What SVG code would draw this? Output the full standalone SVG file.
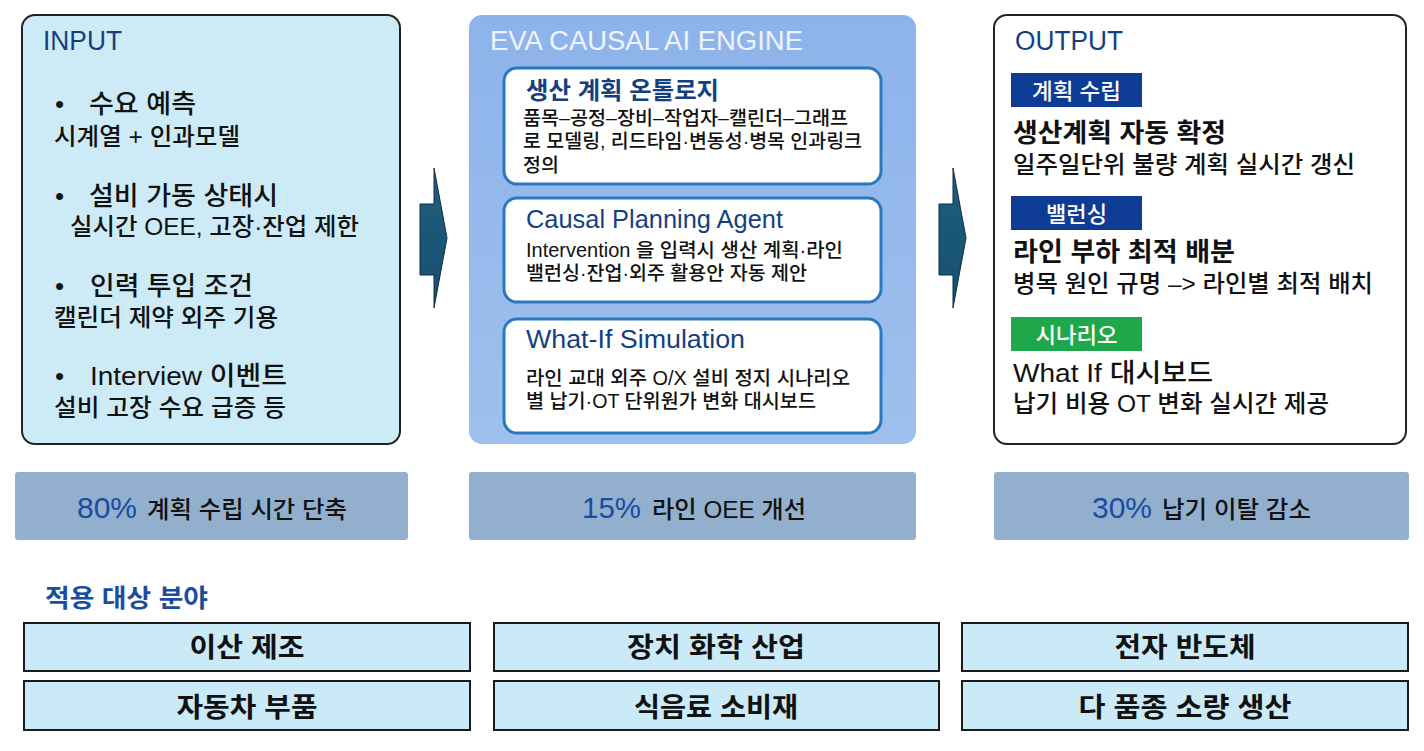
<svg xmlns="http://www.w3.org/2000/svg" width="1424" height="751" viewBox="0 0 1424 751">
<defs>
<linearGradient id="midg" x1="0" y1="0" x2="0" y2="1">
<stop offset="0" stop-color="#8db3ea"/>
<stop offset="1" stop-color="#9fc0ee"/>
</linearGradient>
<linearGradient id="arrg" x1="0" y1="0" x2="0" y2="1">
<stop offset="0" stop-color="#1d5f80"/>
<stop offset="1" stop-color="#174f6e"/>
</linearGradient>
</defs>
<style>
text{font-family:"Liberation Sans","Noto Sans CJK KR",sans-serif;}
.hdr{font-size:27px;fill:#163f80;}
.bul{font-size:26px;fill:#111;font-weight:500;}
.sub{font-size:24px;fill:#111;font-weight:500;}
.ititle{font-size:24px;fill:#163f80;font-weight:700;}
.ititle2{font-size:25px;fill:#163f80;}
.ibody{font-size:19.5px;fill:#111;font-weight:500;}
.badge{font-size:22px;fill:#fff;font-weight:500;text-anchor:middle;}
.obig{font-size:26px;fill:#111;font-weight:700;}
.osub{font-size:24px;fill:#111;font-weight:500;}
.stat{font-size:24px;fill:#111;font-weight:500;}
.pct{font-size:30px;fill:#1a4da0;}
.cell{fill:#c9eaf6;stroke:#1a1a1a;stroke-width:2;}
.ctext{font-size:27px;fill:#111;font-weight:700;text-anchor:middle;}
.inner{fill:#fff;stroke:#2a78bd;stroke-width:3;}
.arrow{fill:url(#arrg);stroke:#0f2e40;stroke-width:1;}
</style>
<rect width="1424" height="751" fill="#ffffff"/>

<g id="input">
<rect x="22" y="15" width="378" height="429" rx="13" fill="#cdebf7" stroke="#222" stroke-width="2"/>
<text x="43" y="50" class="hdr" textLength="79" lengthAdjust="spacingAndGlyphs">INPUT</text>
<text x="55" y="113" class="bul">•</text><text x="89" y="113" class="bul" textLength="107" lengthAdjust="spacingAndGlyphs">수요 예측</text>
<text x="54" y="145" class="sub" textLength="186" lengthAdjust="spacingAndGlyphs">시계열 + 인과모델</text>
<text x="55" y="205" class="bul">•</text><text x="89" y="205" class="bul" textLength="189" lengthAdjust="spacingAndGlyphs">설비 가동 상태시</text>
<text x="70" y="235" class="sub" textLength="289" lengthAdjust="spacingAndGlyphs">실시간 OEE, 고장·잔업 제한</text>
<text x="55" y="295" class="bul">•</text><text x="90" y="295" class="bul" textLength="163" lengthAdjust="spacingAndGlyphs">인력 투입 조건</text>
<text x="54" y="326" class="sub" textLength="224" lengthAdjust="spacingAndGlyphs">캘린더 제약 외주 기용</text>
<text x="55" y="385" class="bul">•</text><text x="90" y="385" class="bul" textLength="197" lengthAdjust="spacingAndGlyphs">Interview 이벤트</text>
<text x="54" y="416" class="sub" textLength="232" lengthAdjust="spacingAndGlyphs">설비 고장 수요 급증 등</text>
</g>

<g id="connectors">
<polygon class="arrow" points="420,204 434,204 434,168 447,238 434,308 434,275 420,275"/>
<polygon class="arrow" points="939,204 953,204 953,168 966,238 953,308 953,275 939,275"/>
</g>

<g id="engine">
<rect x="469" y="15" width="447" height="429" rx="13" fill="url(#midg)"/>
<text x="490" y="50" class="hdr" style="fill:#eef4ff" textLength="313" lengthAdjust="spacingAndGlyphs">EVA CAUSAL AI ENGINE</text>
</g>
<g id="ontology">
<rect x="504" y="68" width="377" height="116" rx="13" class="inner"/>
<text x="526" y="99" class="ititle" textLength="193" lengthAdjust="spacingAndGlyphs">생산 계획 온톨로지</text>
<text x="523" y="125" class="ibody" textLength="325" lengthAdjust="spacingAndGlyphs">품목–공정–장비–작업자–캘린더–그래프</text>
<text x="523" y="148" class="ibody" textLength="339" lengthAdjust="spacingAndGlyphs">로 모델링, 리드타임·변동성·병목 인과링크</text>
<text x="523" y="172" class="ibody">정의</text>
</g>
<g id="agent">
<rect x="504" y="198" width="377" height="104" rx="13" class="inner"/>
<text x="526" y="228" class="ititle2" textLength="257" lengthAdjust="spacingAndGlyphs">Causal Planning Agent</text>
<text x="526" y="257" class="ibody" textLength="317" lengthAdjust="spacingAndGlyphs">Intervention 을 입력시 생산 계획·라인</text>
<text x="526" y="280" class="ibody" textLength="281" lengthAdjust="spacingAndGlyphs">밸런싱·잔업·외주 활용안 자동 제안</text>
</g>
<g id="whatif">
<rect x="504" y="319" width="377" height="114" rx="13" class="inner"/>
<text x="526" y="348" class="ititle2" textLength="219" lengthAdjust="spacingAndGlyphs">What-If Simulation</text>
<text x="526" y="385" class="ibody" textLength="324" lengthAdjust="spacingAndGlyphs">라인 교대 외주 O/X 설비 정지 시나리오</text>
<text x="526" y="408" class="ibody" textLength="290" lengthAdjust="spacingAndGlyphs">별 납기·OT 단위원가 변화 대시보드</text>
</g>

<g id="output">
<rect x="994" y="15" width="412" height="429" rx="13" fill="#fff" stroke="#222" stroke-width="2"/>
<text x="1015" y="50" class="hdr" textLength="108" lengthAdjust="spacingAndGlyphs">OUTPUT</text>
<rect x="1011" y="73" width="131" height="34" fill="#0e3b94"/>
<text x="1076.5" y="99" class="badge" textLength="89" lengthAdjust="spacingAndGlyphs">계획 수립</text>
<text x="1013" y="142" class="obig" textLength="213" lengthAdjust="spacingAndGlyphs">생산계획 자동 확정</text>
<text x="1013" y="173" class="osub" textLength="342" lengthAdjust="spacingAndGlyphs">일주일단위 불량 계획 실시간 갱신</text>
<rect x="1011" y="196" width="131" height="34" fill="#0e3b94"/>
<text x="1076.5" y="222" class="badge" textLength="61" lengthAdjust="spacingAndGlyphs">밸런싱</text>
<text x="1013" y="261" class="obig" textLength="222" lengthAdjust="spacingAndGlyphs">라인 부하 최적 배분</text>
<text x="1013" y="292" class="osub" textLength="360" lengthAdjust="spacingAndGlyphs">병목 원인 규명 –&gt; 라인별 최적 배치</text>
<rect x="1011" y="317" width="131" height="34" fill="#1ea84b"/>
<text x="1076.5" y="343" class="badge" textLength="82" lengthAdjust="spacingAndGlyphs">시나리오</text>
<text x="1013" y="382" class="obig" style="font-weight:500" textLength="200" lengthAdjust="spacingAndGlyphs">What If 대시보드</text>
<text x="1013" y="412" class="osub" textLength="316" lengthAdjust="spacingAndGlyphs">납기 비용 OT 변화 실시간 제공</text>
</g>

<g id="stat1">
<rect x="15" y="472" width="393" height="68" rx="3" fill="#92afcd"/>
<text x="77" y="518" class="pct" textLength="60" lengthAdjust="spacingAndGlyphs">80%</text>
<text x="147" y="518" class="stat" textLength="200" lengthAdjust="spacingAndGlyphs">계획 수립 시간 단축</text>
</g>
<g id="stat2">
<rect x="469" y="472" width="447" height="68" rx="3" fill="#92afcd"/>
<text x="582" y="518" class="pct" textLength="59" lengthAdjust="spacingAndGlyphs">15%</text>
<text x="652" y="518" class="stat" textLength="154" lengthAdjust="spacingAndGlyphs">라인 OEE 개선</text>
</g>
<g id="stat3">
<rect x="994" y="472" width="415" height="68" rx="3" fill="#92afcd"/>
<text x="1092" y="518" class="pct" textLength="60" lengthAdjust="spacingAndGlyphs">30%</text>
<text x="1162" y="518" class="stat" textLength="149" lengthAdjust="spacingAndGlyphs">납기 이탈 감소</text>
</g>

<g id="fields-title">
<text x="45" y="607" style="font-size:25px;fill:#1a4da0;font-weight:700" textLength="163" lengthAdjust="spacingAndGlyphs">적용 대상 분야</text>
</g>
<g id="f1"><rect x="24" y="623" width="446" height="48" class="cell"/><text x="247" y="657" class="ctext" textLength="115" lengthAdjust="spacingAndGlyphs">이산 제조</text></g>
<g id="f2"><rect x="494" y="623" width="445" height="48" class="cell"/><text x="716" y="657" class="ctext" textLength="178" lengthAdjust="spacingAndGlyphs">장치 화학 산업</text></g>
<g id="f3"><rect x="962" y="623" width="446" height="48" class="cell"/><text x="1185" y="657" class="ctext" textLength="141" lengthAdjust="spacingAndGlyphs">전자 반도체</text></g>
<g id="f4"><rect x="24" y="681" width="446" height="49" class="cell"/><text x="247" y="717" class="ctext" textLength="141" lengthAdjust="spacingAndGlyphs">자동차 부품</text></g>
<g id="f5"><rect x="494" y="681" width="445" height="49" class="cell"/><text x="716" y="717" class="ctext" textLength="164" lengthAdjust="spacingAndGlyphs">식음료 소비재</text></g>
<g id="f6"><rect x="962" y="681" width="446" height="49" class="cell"/><text x="1185" y="717" class="ctext" textLength="213" lengthAdjust="spacingAndGlyphs">다 품종 소량 생산</text></g>
</svg>
